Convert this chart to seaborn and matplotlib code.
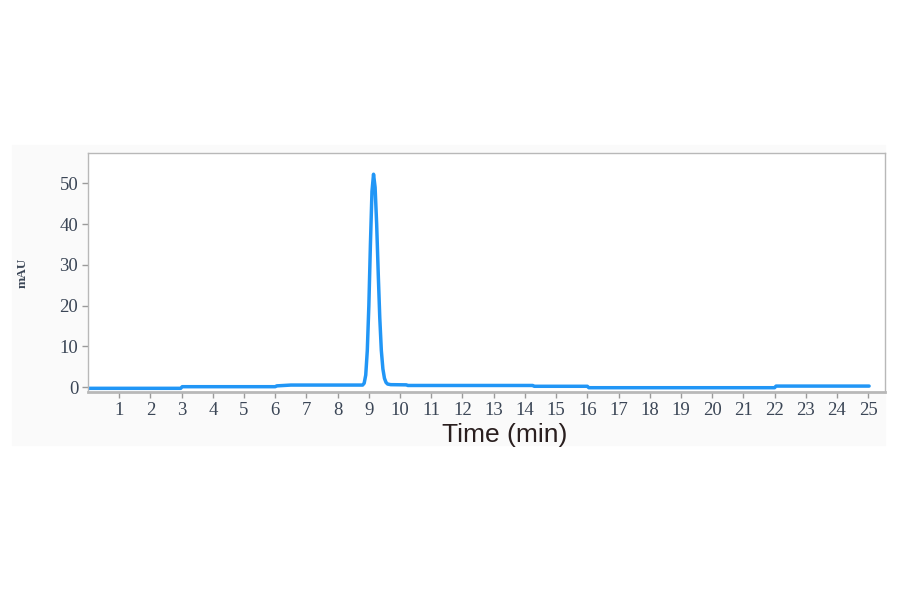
import matplotlib
matplotlib.use('Agg')
import matplotlib.pyplot as plt
import seaborn as sns
import pandas as pd
from matplotlib.patches import Rectangle

# retention time (min) and absorbance (mAU)
time_min = [0.04, 2.97, 3.02, 6.00, 6.05, 6.50, 8.80, 8.85, 8.90, 8.95,
            9.00, 9.05, 9.10, 9.15, 9.20, 9.25, 9.30, 9.35, 9.40, 9.45,
            9.50, 9.55, 9.60, 9.70, 10.20, 10.25, 14.25, 14.30, 16.00, 16.05,
            22.00, 22.05, 25.03]
mau = [-0.25, -0.25, 0.15, 0.15, 0.35, 0.55, 0.55, 1.0, 3.0, 9.0,
       20.0, 35.0, 48.0, 52.2, 49.0, 40.0, 28.0, 17.0, 9.0, 4.5,
       2.2, 1.2, 0.8, 0.65, 0.6, 0.45, 0.45, 0.25, 0.25, -0.1,
       -0.1, 0.3, 0.3]

x_ticks = list(range(1, 26))
y_ticks = [0, 10, 20, 30, 40, 50]

df = pd.DataFrame({"time": time_min, "mAU": mau})

sns.set_style("white")
fig = plt.figure(figsize=(9, 5.94), dpi=100)
bg = Rectangle((12 / 900, 1 - 445 / 594), 873 / 900, 300 / 594,
               transform=fig.transFigure, color="#fafafa", zorder=-5)
fig.add_artist(bg)
ax = fig.add_axes([88 / 900, 1 - 392 / 594, 797 / 900, 239 / 594])

sns.lineplot(data=df, x="time", y="mAU", ax=ax, color="#2196f6", linewidth=2.5)

ax.set_xlim(0, 25.54)
ax.set_ylim(-1.15, 57.4)
ax.set_xticks(x_ticks)
ax.set_yticks(y_ticks)
ax.set_xticklabels([str(t) for t in x_ticks], family="Liberation Serif", fontsize=13.5, color="#3b4656")
ax.set_yticklabels([str(t) for t in y_ticks], family="Liberation Serif", fontsize=13.5, color="#3b4656")
ax.tick_params(axis="both", direction="out", length=4, width=1, color="#9a9a9a", pad=3, bottom=True, left=True)

for s in ax.spines.values():
    s.set_color("#b8b8b8")
    s.set_linewidth(1)
ax.spines["bottom"].set_linewidth(2)

ax.set_xlabel("")
ax.set_ylabel("mAU", family="Liberation Serif", fontsize=9.5, fontweight="bold", color="#3b4656", labelpad=22)
fig.text(505 / 900, 1 - 435 / 594, "Time (min)", family="Liberation Sans", fontsize=19,
         color="#2a1f1f", ha="center", va="center")

fig.savefig("out.png", dpi=100)
